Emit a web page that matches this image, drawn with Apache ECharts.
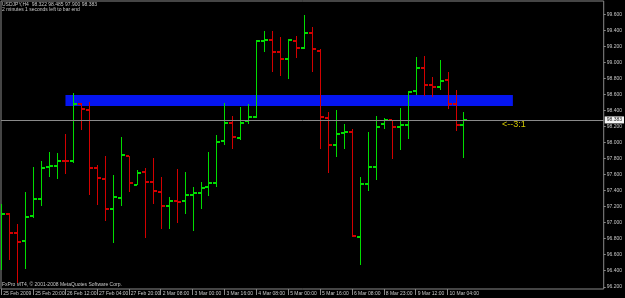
<!DOCTYPE html>
<html><head><meta charset="utf-8">
<script src="https://cdn.jsdelivr.net/npm/echarts@6/dist/echarts.min.js"></script>
<style>html,body{margin:0;padding:0;background:#000;}#c{width:625px;height:298px;}</style>
</head><body><div id="c"></div>
<script>
// H4 bars, index 0 = 25 Feb 2009 04:00
var openP  = [96.78,97.205,96.964,96.865,97.177,97.393,97.788,97.801,97.871,97.867,98.575,98.504,97.780,97.646,97.268,97.405,97.925,97.571,97.733,97.601,97.476,97.301,97.364,97.364,97.443,97.468,97.539,97.592,98.113,98.345,98.150,98.363,98.420,99.365,99.378,99.228,99.140,99.369,99.274,99.461,99.237,98.400,98.070,98.213,98.233,96.922,97.584,97.792,98.325,98.375,98.288,98.320,98.737,99.024,98.812,98.787,98.874,98.575,98.322];
var highP  = [97.330,97.215,97.080,97.480,97.788,97.867,97.976,97.967,98.204,98.712,98.587,98.607,97.817,97.929,97.692,98.163,97.929,97.755,97.776,97.904,97.671,97.421,97.767,97.733,97.546,97.605,97.979,98.192,98.591,98.429,98.541,98.575,99.378,99.486,99.486,99.415,99.386,99.431,99.690,99.536,99.262,98.475,98.504,98.329,98.263,97.671,98.229,98.429,98.408,98.385,98.525,98.745,99.169,99.182,98.919,99.128,98.982,98.753,98.485];
var lowP   = [96.506,96.631,96.348,96.515,97.152,97.309,97.671,97.646,97.708,97.838,98.254,97.443,97.314,97.122,96.840,97.309,97.484,97.567,96.902,97.326,97.018,97.018,97.097,97.205,96.993,97.268,97.434,97.546,98.070,98.013,98.125,98.329,98.400,99.228,98.982,98.932,98.887,99.149,99.265,98.982,98.017,97.717,97.921,98.017,96.922,96.565,97.492,97.626,98.270,97.896,98.008,98.145,98.691,98.679,98.662,98.753,98.516,98.245,97.900];
var closeP = [97.205,96.964,96.852,97.168,97.393,97.780,97.801,97.871,97.867,98.575,98.512,97.780,97.651,97.268,97.414,97.946,97.589,97.717,97.605,97.489,97.301,97.368,97.360,97.443,97.468,97.526,97.589,98.108,98.338,98.163,98.338,98.420,99.361,99.374,99.232,99.144,99.378,99.274,99.461,99.265,98.413,98.063,98.200,98.225,96.925,97.576,97.792,98.288,98.379,98.288,98.320,98.728,99.024,98.812,98.787,98.866,98.582,98.322,98.383];
var timeLabels = ["25 Feb 2009","25 Feb 20:00","26 Feb 12:00","27 Feb 04:00","27 Feb 20:00","2 Mar 08:00","3 Mar 00:00","3 Mar 16:00","4 Mar 08:00","5 Mar 00:00","5 Mar 16:00","6 Mar 08:00","8 Mar 23:00","9 Mar 12:00","10 Mar 04:00"];
var timeLabelBars = [0,4,8,12,16,20,24,28,32,36,40,44,48,52,56];
var priceLabels = [96.2,96.4,96.6,96.8,97.0,97.2,97.4,97.6,97.8,98.0,98.2,98.4,98.6,98.8,99.0,99.2,99.4,99.6];
var bidPrice = 98.383;
var zoneBars = [8.05, 64.2];
var zonePrices = [98.69, 98.554];

var GREEN = '#00dc00', RED = '#d20000', TXT = '#c8c8c8', FONT = 'Liberation Sans';

var data = openP.map(function (o, i) { return [i, o, highP[i], lowP[i], closeP[i]]; });

function renderItem(params, api) {
  var x = api.value(0);
  var o = api.coord([x, api.value(1)]);
  var h = api.coord([x, api.value(2)]);
  var l = api.coord([x, api.value(3)]);
  var c = api.coord([x, api.value(4)]);
  var color = api.value(4) >= api.value(1) ? GREEN : RED;
  var px = Math.round(o[0]) + 0.5;
  var oy = Math.round(o[1]), cy = Math.round(c[1]);
  return {
    type: 'group',
    children: [
      { type: 'line', shape: { x1: px, y1: Math.round(h[1]), x2: px, y2: Math.round(l[1]) }, style: { stroke: color, lineWidth: 1 } },
      { type: 'rect', shape: { x: px - 3.5, y: oy - 1, width: 3, height: 2 }, style: { fill: color } },
      { type: 'rect', shape: { x: px + 0.5, y: cy - 1, width: 3, height: 2 }, style: { fill: color } }
    ]
  };
}

function renderZone(params, api) {
  var p1 = api.coord([api.value(0), api.value(2)]);
  var p2 = api.coord([api.value(1), api.value(3)]);
  return { type: 'rect', shape: { x: p1[0], y: p1[1], width: p2[0] - p1[0], height: p2[1] - p1[1] }, style: { fill: '#0515f0' } };
}

var chart = echarts.init(document.getElementById('c'), null, { renderer: 'canvas' });
chart.setOption({
  backgroundColor: '#000',
  animation: false,
  grid: { left: 1, top: 1, right: 19, bottom: 9, show: true, borderColor: '#8a8a8a', borderWidth: 1, backgroundColor: 'transparent' },
  xAxis: {
    type: 'value', min: -0.04, max: 75.6,
    axisLine: { show: false },
    splitLine: { show: false },
    axisTick: { show: true, customValues: timeLabelBars, length: 6, lineStyle: { color: '#8a8a8a' } },
    axisLabel: {
      customValues: timeLabelBars, align: 'left', margin: 2, padding: [0, 0, 0, 2],
      fontSize: 5, fontFamily: FONT, color: TXT,
      formatter: function (v) { return timeLabels[timeLabelBars.indexOf(Math.round(v))] || ''; }
    }
  },
  yAxis: [
    { type: 'value', min: 96.269, max: 99.865, show: false, splitLine: { show: false } },
    {
      type: 'value', position: 'right', min: 96.172, max: 99.768,
      axisLine: { show: false }, splitLine: { show: false },
      axisTick: { show: true, customValues: priceLabels, length: 2, lineStyle: { color: '#8a8a8a' } },
      axisLabel: { customValues: priceLabels, margin: 3, fontSize: 5, fontFamily: FONT, color: TXT,
        formatter: function (v) { return v.toFixed(3); } }
    }
  ],
  series: [{
    type: 'custom', renderItem: renderZone, z: 1, clip: true,
    xAxisIndex: 0, yAxisIndex: 0,
    data: [[zoneBars[0], zoneBars[1], zonePrices[0], zonePrices[1]]],
    encode: { x: [0, 1], y: [2, 3] }
  }, {
    type: 'custom', renderItem: renderItem, data: data, clip: true, z: 2,
    xAxisIndex: 0, yAxisIndex: 0,
    encode: { x: 0, y: [1, 2, 3, 4] },
    markLine: {
      silent: true, symbol: ['none', 'none'],
      lineStyle: { color: '#8a8a8a', type: 'solid', width: 1 },
      label: { show: true, position: 'end', distance: 1, formatter: '98.383', backgroundColor: '#f4f4f4', color: '#202020', padding: [1, 2, 1, 2], fontSize: 5, fontFamily: FONT },
      data: [{ yAxis: bidPrice }]
    }
  }],
  graphic: [
    { type: 'text', left: 2, top: 2, style: { text: 'USDJPY,H4  98.322 98.485 97.900 98.383', fill: TXT, font: '5px "Liberation Sans"' } },
    { type: 'text', left: 2, top: 7, style: { text: '2 minutes 1 seconds left to bar end', fill: TXT, font: '5px "Liberation Sans"' } },
    { type: 'text', left: 2, top: 282, style: { text: 'FxPro MT4, \u00a9 2001-2008 MetaQuotes Software Corp.', fill: TXT, font: '5px "Liberation Sans"' } },
    { type: 'text', left: 502, top: 120, style: { text: '<--3:1', fill: '#d2c800', font: '9px "Liberation Sans"' } }
  ]
});
</script></body></html>
